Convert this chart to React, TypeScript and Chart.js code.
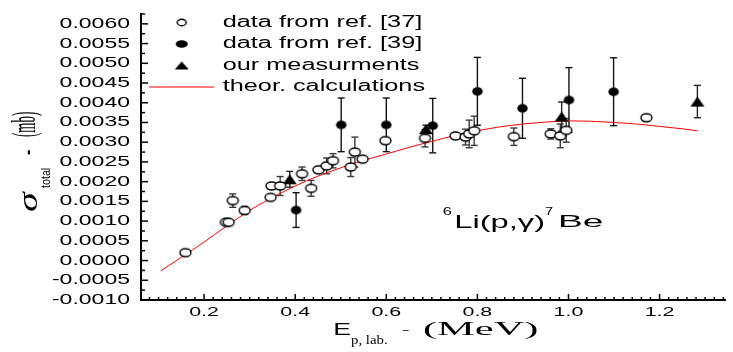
import React, { useEffect, useRef } from "react";
import { Chart, registerables } from "chart.js";

Chart.register(...registerables);

// Total cross section of 6Li(p,gamma)7Be, sigma in mb versus proton lab energy in MeV.
const ref37Energy = [0.159, 0.248, 0.254, 0.263, 0.289, 0.346, 0.348, 0.367, 0.415, 0.435, 0.451, 0.469, 0.483, 0.522, 0.531, 0.548, 0.598, 0.685, 0.752, 0.774, 0.782, 0.793, 0.88, 0.961, 0.982, 0.995, 1.171];
const ref37Sigma = [0.0002, 0.00097, 0.00097, 0.00152, 0.00127, 0.0016, 0.00189, 0.00189, 0.0022, 0.00183, 0.0023, 0.0024, 0.00253, 0.00237, 0.00275, 0.00257, 0.00304, 0.0031, 0.00316, 0.00313, 0.00321, 0.00329, 0.00314, 0.00321, 0.00316, 0.0033, 0.00362];
const ref37Error = [0, 0.00003, 0.00003, 0.00017, 0.0001, 0.00005, 0.00004, 0.00024, 0.00017, 0.0002, 0.00005, 0.0002, 0.00018, 0.00024, 0.00038, 0.00005, 0.00008, 0.00022, 0.00005, 0.0002, 0.00035, 0.00037, 0.00022, 0.00013, 0.0003, 0.0003, 0.00008];

const ref39Energy = [0.402, 0.501, 0.6, 0.702, 0.8, 0.899, 1.001, 1.099];
const ref39Sigma = [0.00128, 0.00344, 0.00344, 0.00342, 0.00429, 0.00386, 0.00407, 0.00428];
const ref39Error = [0.00044, 0.00068, 0.00068, 0.00069, 0.00086, 0.00076, 0.00082, 0.00086];

const ourEnergy = [0.388, 0.687, 0.985, 1.283];
const ourSigma = [0.00206, 0.00333, 0.00365, 0.00403];
const ourError = [0.0002, 0.0001, 0.00037, 0.00041];

const theoryEnergy = [0.105, 0.15, 0.2, 0.25, 0.3, 0.35, 0.4, 0.45, 0.5, 0.55, 0.6, 0.65, 0.7, 0.75, 0.8, 0.85, 0.9, 0.95, 1.0, 1.05, 1.1, 1.15, 1.2, 1.25, 1.283];
const theorySigma = [-0.00026, 0.00008, 0.00047, 0.00088, 0.00127, 0.0016, 0.00189, 0.00214, 0.00235, 0.00254, 0.0027, 0.00287, 0.00302, 0.00317, 0.00329, 0.00339, 0.00346, 0.00351, 0.00354, 0.00353, 0.0035, 0.00346, 0.0034, 0.00334, 0.00329];

const legendLabels = ["data from ref. [37]", "data from ref. [39]", "our measurments", "theor. calculations"];
const xTickValues = [0.2, 0.4, 0.6, 0.8, 1.0, 1.2];
const yTickValues = [-0.001, -0.0005, 0, 0.0005, 0.001, 0.0015, 0.002, 0.0025, 0.003, 0.0035, 0.004, 0.0045, 0.005, 0.0055, 0.006];

const SANS = "'Liberation Sans', Arial, sans-serif";
const SERIF = "'Liberation Serif', 'Times New Roman', serif";
const WIDE = 1.6;

type Kind = "open" | "filled" | "triangle";

function makeMarker(kind: Kind, w: number, h: number): HTMLCanvasElement {
  const pad = 2;
  const c = document.createElement("canvas");
  c.width = Math.ceil(w + pad * 2);
  c.height = Math.ceil(h + pad * 2);
  const g = c.getContext("2d")!;
  const cx = c.width / 2;
  const cy = c.height / 2;
  g.beginPath();
  if (kind === "triangle") {
    g.moveTo(cx, cy - h / 2);
    g.lineTo(cx + w / 2, cy + h / 2);
    g.lineTo(cx - w / 2, cy + h / 2);
    g.closePath();
    g.fillStyle = "#000";
    g.fill();
  } else {
    g.ellipse(cx, cy, w / 2, h / 2, 0, 0, Math.PI * 2);
    if (kind === "open") {
      g.fillStyle = "#fff";
      g.fill();
      g.lineWidth = 1.4;
      g.strokeStyle = "#000";
      g.stroke();
    } else {
      g.fillStyle = "#000";
      g.fill();
    }
  }
  return c;
}

// Draws text so that its ink box fills [x0,x1] x [top,bottom] of the current frame.
function fitText(ctx: CanvasRenderingContext2D, text: string, font: string, x0: number, x1: number, top: number, bottom: number) {
  ctx.save();
  ctx.font = font;
  ctx.textAlign = "left";
  ctx.textBaseline = "alphabetic";
  const m = ctx.measureText(text);
  const w = m.actualBoundingBoxLeft + m.actualBoundingBoxRight;
  const h = m.actualBoundingBoxAscent + m.actualBoundingBoxDescent;
  ctx.translate(x0, top);
  ctx.scale((x1 - x0) / w, (bottom - top) / h);
  ctx.fillText(text, m.actualBoundingBoxLeft, m.actualBoundingBoxAscent);
  ctx.restore();
}

// Horizontally widened text, anchored at (x, y).
function wideText(ctx: CanvasRenderingContext2D, text: string, font: string, x: number, y: number, align: CanvasTextAlign, sx = WIDE) {
  ctx.save();
  ctx.font = font;
  ctx.textAlign = align;
  ctx.textBaseline = "middle";
  ctx.translate(x, y);
  ctx.scale(sx, 1);
  ctx.fillText(text, 0, 0);
  ctx.restore();
}

function line(ctx: CanvasRenderingContext2D, x1: number, y1: number, x2: number, y2: number) {
  ctx.beginPath();
  ctx.moveTo(x1, y1);
  ctx.lineTo(x2, y2);
  ctx.stroke();
}

const errorSets = [
  { energy: ref37Energy, sigma: ref37Sigma, error: ref37Error, color: "#3a3a3a" },
  { energy: ref39Energy, sigma: ref39Sigma, error: ref39Error, color: "#111" },
  { energy: ourEnergy, sigma: ourSigma, error: ourError, color: "#222" },
];

export default function App() {
  const canvasRef = useRef<HTMLCanvasElement | null>(null);

  useEffect(() => {
    const canvas = canvasRef.current;
    if (!canvas) return;

    const openImg = makeMarker("open", 11, 8);
    const filledImg = makeMarker("filled", 10.5, 8.5);
    const triImg = makeMarker("triangle", 14, 10);
    const legendOpen = makeMarker("open", 9, 6.5);
    const legendFilled = makeMarker("filled", 12, 7.5);
    const legendTri = makeMarker("triangle", 14, 8);

    const decor = {
      id: "decor",
      beforeDatasetsDraw(chart: any) {
        const { ctx } = chart;
        const xs = chart.scales.x;
        const ys = chart.scales.y;
        ctx.save();
        ctx.lineWidth = 1.4;
        errorSets.forEach((set) => {
          ctx.strokeStyle = set.color;
          set.energy.forEach((e, i) => {
            const err = set.error[i];
            if (!err) return;
            const px = xs.getPixelForValue(e);
            const top = ys.getPixelForValue(set.sigma[i] + err);
            const bot = ys.getPixelForValue(set.sigma[i] - err);
            line(ctx, px, top, px, bot);
            line(ctx, px - 3.5, top, px + 3.5, top);
            line(ctx, px - 3.5, bot, px + 3.5, bot);
          });
        });
        ctx.restore();
      },
      afterDraw(chart: any) {
        const { ctx, chartArea } = chart;
        const xs = chart.scales.x;
        const ys = chart.scales.y;
        ctx.save();
        ctx.strokeStyle = "#000";
        ctx.fillStyle = "#000";
        ctx.lineWidth = 1.5;

        // inward tick marks
        for (let k = -4; k <= 25; k++) {
          const py = ys.getPixelForValue(k * 0.00025);
          line(ctx, chartArea.left, py, chartArea.left + (k % 2 === 0 ? 7 : 4), py);
        }
        for (let k = 4; k <= 67; k++) {
          const v = k * 0.02;
          if (v < xs.min || v > xs.max) continue;
          const px = xs.getPixelForValue(v);
          line(ctx, px, chartArea.bottom, px, chartArea.bottom - (k % 10 === 0 ? 6 : 3));
        }

        // tick labels
        yTickValues.forEach((v) => {
          wideText(ctx, v.toFixed(4), `14.4px ${SANS}`, chartArea.left - 11, ys.getPixelForValue(v), "right");
        });
        xTickValues.forEach((v) => {
          wideText(ctx, v.toFixed(1), `13.4px ${SANS}`, xs.getPixelForValue(v), chartArea.bottom + 12.5, "center");
        });

        // x axis title: E_{p, lab.} - (MeV)
        fitText(ctx, "E", `16px ${SANS}`, 335, 350, 323, 335);
        fitText(ctx, "p, lab.", `11px ${SERIF}`, 351, 388, 336.5, 346.7);
        fitText(ctx, "-", `16px ${SERIF}`, 402, 409, 328.5, 330.5);
        fitText(ctx, "(MeV)", `20px ${SERIF}`, 423, 537, 321.7, 340);

        // y axis title, written bottom to top: sigma_total - (mb)
        ctx.save();
        ctx.rotate(-Math.PI / 2);
        fitText(ctx, "\u03c3", `italic 20px ${SERIF}`, -212, -190, 21.7, 36.7);
        fitText(ctx, "total", `10px ${SANS}`, -188, -168, 40, 50);
        fitText(ctx, "-", `16px ${SERIF}`, -155, -150, 25, 30.5);
        fitText(ctx, "(mb)", `13px ${SERIF}`, -137, -112, 12, 43);
        ctx.restore();

        // legend
        const rows = [22.5, 44, 65.5, 87];
        const markerX = 181.7;
        [legendOpen, legendFilled, legendTri].forEach((img, i) => {
          ctx.drawImage(img, markerX - img.width / 2, rows[i] - img.height / 2);
        });
        ctx.strokeStyle = "#ff0000";
        ctx.lineWidth = 1;
        line(ctx, 149, rows[3], 214, rows[3]);
        legendLabels.forEach((label, i) => {
          wideText(ctx, label, `16px ${SANS}`, 222.7, rows[i], "left", 1.58);
        });

        // reaction label: 6Li(p,gamma)7Be
        fitText(ctx, "6", `11px ${SANS}`, 442.7, 451.7, 207, 215);
        fitText(ctx, "Li(p,\u03b3)", `18px ${SANS}`, 456, 543.3, 215, 231.7);
        fitText(ctx, "7", `11px ${SANS}`, 545, 553, 207, 215);
        fitText(ctx, "Be", `18px ${SANS}`, 560, 603.3, 216, 227.3);

        ctx.restore();
      },
    };

    const toPoints = (xv: number[], yv: number[]) => xv.map((x, i) => ({ x, y: yv[i] }));

    const chart = new Chart(canvas, {
      type: "scatter",
      data: {
        datasets: [
          { label: legendLabels[0], data: toPoints(ref37Energy, ref37Sigma), pointStyle: openImg, pointRadius: 6 },
          { label: legendLabels[1], data: toPoints(ref39Energy, ref39Sigma), pointStyle: filledImg, pointRadius: 6 },
          { label: legendLabels[2], data: toPoints(ourEnergy, ourSigma), pointStyle: triImg, pointRadius: 7 },
          {
            label: legendLabels[3],
            data: toPoints(theoryEnergy, theorySigma),
            showLine: true,
            borderColor: "#ff0000",
            borderWidth: 1,
            pointRadius: 0,
            cubicInterpolationMode: "monotone",
          } as any,
        ],
      },
      options: {
        animation: false,
        responsive: false,
        events: [],
        layout: { padding: { left: 141, right: 0, top: 14, bottom: 52 } },
        plugins: { legend: { display: false }, tooltip: { enabled: false } },
        scales: {
          x: {
            type: "linear",
            min: 0.0615,
            max: 1.3436,
            grid: { display: false, drawTicks: false },
            border: { display: true, color: "#000", width: 2 },
            ticks: { display: false },
          },
          y: {
            type: "linear",
            min: -0.001,
            max: 0.00625,
            grid: { display: false, drawTicks: false },
            border: { display: true, color: "#000", width: 2 },
            ticks: { display: false },
          },
        },
      },
      plugins: [decor],
    });

    return () => chart.destroy();
  }, []);

  return (
    <div style={{ position: "fixed", left: 0, top: 0, width: 733, height: 352, background: "#fff" }}>
      <canvas ref={canvasRef} width={733} height={352} style={{ display: "block" }} />
    </div>
  );
}
